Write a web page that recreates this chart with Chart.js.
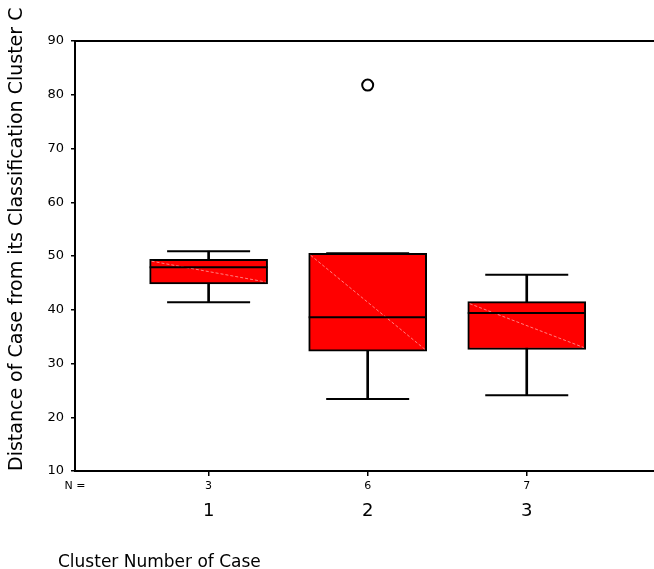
<!DOCTYPE html>
<html>
<head>
<meta charset="utf-8">
<script src="https://cdn.jsdelivr.net/npm/chart.js@4.4.0/dist/chart.umd.min.js"></script>
<style>
  html, body { margin: 0; padding: 0; background: #fff; }
  #wrap { width: 654px; height: 569px; position: relative; }
</style>
</head>
<body>
<div id="wrap"><canvas id="chart"></canvas></div>
<script>
// Boxplot summary per cluster
const clusters = [1, 2, 3];
const clusterLabels = ["1", "2", "3"];
const counts = [3, 6, 7];
const mins = [41.4, 23.4, 24.1];
const q1s = [44.8, 32.3, 32.6];
const medians = [47.9, 38.6, 39.4];
const q3s = [49.4, 50.5, 41.5];
const maxs = [50.9, 50.5, 46.5];
const outlierClusters = [2];
const outlierValues = [81.8];

const FONT = "DejaVu Sans";

// diagonal sheen on boxes, top frame line, N row and x title
const extras = {
  id: "extras",
  afterDatasetDraw(chart, args) {
    if (args.index !== 1) return;
    const ctx = chart.ctx;
    ctx.save();
    ctx.strokeStyle = "rgba(255,160,160,0.8)";
    ctx.lineWidth = 1;
    ctx.setLineDash([3, 2]);
    args.meta.data.forEach(bar => {
      const p = bar.getProps(["x", "y", "base", "width"], true);
      ctx.beginPath();
      ctx.moveTo(p.x - p.width / 2 + 2, Math.min(p.y, p.base) + 2);
      ctx.lineTo(p.x + p.width / 2 - 2, Math.max(p.y, p.base) - 2);
      ctx.stroke();
    });
    ctx.restore();
  },
  afterDraw(chart) {
    const { ctx, chartArea, scales } = chart;
    ctx.save();
    ctx.strokeStyle = "#000";
    ctx.lineWidth = 2;
    ctx.beginPath();
    ctx.moveTo(chartArea.left, chartArea.top);
    ctx.lineTo(chartArea.right, chartArea.top);
    ctx.stroke();

    ctx.fillStyle = "#000";
    ctx.font = "11px '" + FONT + "'";
    ctx.textAlign = "center";
    ctx.textBaseline = "middle";
    const nY = chartArea.bottom + 15;
    ctx.fillText("N =", chartArea.left, nY);
    counts.forEach((n, i) => {
      ctx.fillText(String(n), scales.x.getPixelForValue(clusters[i]), nY);
    });

    ctx.font = "17px '" + FONT + "'";
    ctx.textAlign = "left";
    ctx.textBaseline = "alphabetic";
    ctx.fillText("Cluster Number of Case", 58, chart.height - 2);
    ctx.restore();
  }
};

function noPad(s) {
  s.paddingTop = 0;
  s.paddingBottom = 0;
  s.paddingLeft = 0;
  s.paddingRight = 0;
}

const ctx = document.getElementById("chart").getContext("2d");

new Chart(ctx, {
  type: "bar",
  data: {
    datasets: [
      {
        // whisker stems
        type: "bar",
        data: clusters.map((c, i) => ({ x: c, y: [mins[i], maxs[i]] })),
        backgroundColor: "#000",
        borderWidth: 0,
        barThickness: 2,
        grouped: false,
        order: 5
      },
      {
        // boxes
        type: "bar",
        data: clusters.map((c, i) => ({ x: c, y: [q1s[i], q3s[i]] })),
        backgroundColor: "#ff0000",
        borderColor: "#000",
        borderWidth: 2,
        borderSkipped: false,
        barThickness: 118,
        grouped: false,
        order: 4
      },
      {
        // whisker caps
        type: "scatter",
        data: clusters.flatMap((c, i) => [{ x: c, y: mins[i] }, { x: c, y: maxs[i] }]),
        pointStyle: "line",
        pointRadius: 41.5,
        borderColor: "#000",
        borderWidth: 2,
        order: 2
      },
      {
        // medians
        type: "scatter",
        data: clusters.map((c, i) => ({ x: c, y: medians[i] })),
        pointStyle: "line",
        pointRadius: 59,
        borderColor: "#000",
        borderWidth: 2,
        order: 1
      },
      {
        // outliers
        type: "scatter",
        data: outlierClusters.map((c, i) => ({ x: c, y: outlierValues[i] })),
        pointStyle: "circle",
        pointRadius: 5.5,
        backgroundColor: "#fff",
        borderColor: "#000",
        borderWidth: 2,
        order: 0
      }
    ]
  },
  options: {
    responsive: true,
    maintainAspectRatio: false,
    animation: false,
    events: [],
    layout: { autoPadding: false, padding: { top: 41, right: 0, bottom: 0, left: 0 } },
    plugins: {
      legend: { display: false },
      tooltip: { enabled: false }
    },
    scales: {
      x: {
        type: "linear",
        min: 0.16,
        max: 3.8,
        offset: false,
        afterBuildTicks: s => { s.ticks = clusters.map(v => ({ value: v })); },
        afterFit: s => { s.height = 98; noPad(s); },
        ticks: {
          callback: v => clusterLabels[clusters.indexOf(v)],
          font: { family: FONT, size: 18 },
          color: "#000",
          padding: 25,
          maxRotation: 0,
          autoSkip: false
        },
        grid: { offset: false, drawOnChartArea: false, drawTicks: true, tickLength: 5, color: "#000", lineWidth: 1.5 },
        border: { display: true, color: "#000", width: 2 }
      },
      y: {
        min: 10,
        max: 90,
        afterFit: s => { s.width = 75; noPad(s); },
        ticks: {
          stepSize: 10,
          font: { family: FONT, size: 13 },
          color: "#000",
          padding: 7
        },
        grid: { drawOnChartArea: false, drawTicks: true, tickLength: 4, color: "#000", lineWidth: 1.5 },
        border: { display: true, color: "#000", width: 2 },
        title: {
          display: true,
          text: "Distance of Case from its Classification Cluster C",
          align: "start",
          font: { family: FONT, size: 19 },
          color: "#000",
          padding: { top: 6, bottom: 0 }
        }
      }
    }
  },
  plugins: [extras]
});
</script>
</body>
</html>
